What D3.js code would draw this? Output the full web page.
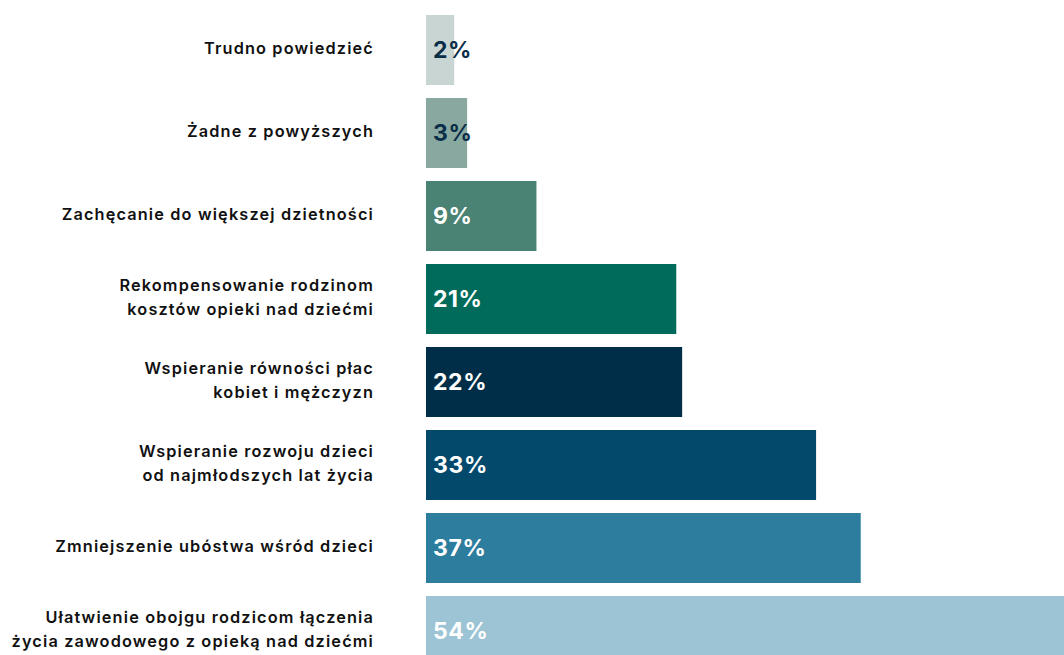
<!DOCTYPE html>
<html><head><meta charset="utf-8">
<script src="https://cdn.jsdelivr.net/npm/d3@7/dist/d3.min.js"></script>
<style>
html,body{margin:0;padding:0;background:#fff;overflow:hidden;}
svg{display:block;}
</style></head>
<body>
<svg id="chart" width="1064" height="655"></svg>
<script>
const categories = [
  ["Trudno powiedzieć"],
  ["Żadne z powyższych"],
  ["Zachęcanie do większej dzietności"],
  ["Rekompensowanie rodzinom", "kosztów opieki nad dziećmi"],
  ["Wspieranie równości płac", "kobiet i mężczyzn"],
  ["Wspieranie rozwoju dzieci", "od najmłodszych lat życia"],
  ["Zmniejszenie ubóstwa wśród dzieci"],
  ["Ułatwienie obojgu rodzicom łączenia", "życia zawodowego z opieką nad dziećmi"]
];
const values = [2.4, 3.5, 9.4, 21.3, 21.8, 33.2, 37.0, 54.3];
const valueLabels = ["2%", "3%", "9%", "21%", "22%", "33%", "37%", "54%"];
const colors = ["#c8d5d3", "#88a8a0", "#4a8273", "#006b5a", "#002e48", "#03496c", "#2d7d9e", "#9cc4d4"];
const labelColors = ["#0b2e48", "#0b2e48", "#fff", "#fff", "#fff", "#fff", "#fff", "#fff"];

const svg = d3.select("#chart");
const idx = d3.range(categories.length);
const x = d3.scaleLinear().domain([0, 54.3]).range([426, 1064]);
const y = d3.scaleBand().domain(idx).range([15, 666]).paddingInner(13/83).paddingOuter(0);

svg.selectAll("rect.bar").data(idx).join("rect")
  .attr("class", "bar")
  .attr("x", x(0))
  .attr("y", i => y(i))
  .attr("width", i => x(values[i]) - x(0))
  .attr("height", y.bandwidth())
  .attr("fill", i => colors[i]);

svg.selectAll("text.val").data(idx).join("text")
  .attr("class", "val")
  .attr("x", x(0) + 7)
  .attr("y", i => y(i) + y.bandwidth() / 2)
  .attr("dy", "0.36em")
  .attr("font-family", "Inter, sans-serif")
  .attr("font-weight", 700)
  .attr("font-size", 23)
  .attr("letter-spacing", 0.6)
  .attr("fill", i => labelColors[i])
  .text(i => valueLabels[i]);

const cat = svg.selectAll("text.cat").data(idx).join("text")
  .attr("class", "cat")
  .attr("text-anchor", "end")
  .attr("font-family", "Inter, sans-serif")
  .attr("font-weight", 600)
  .attr("font-size", 16.3)
  .attr("letter-spacing", 1.15)
  .attr("fill", "#111");
cat.each(function(i) {
  const lines = categories[i];
  const cy = y(i) + y.bandwidth() / 2;
  const lh = 24;
  const t = d3.select(this);
  lines.forEach((l, k) => {
    t.append("tspan")
      .attr("x", 374)
      .attr("y", cy - 2 + (k - (lines.length - 1) / 2) * lh)
      .attr("dy", "0.35em")
      .text(l);
  });
});
</script>
</body></html>
